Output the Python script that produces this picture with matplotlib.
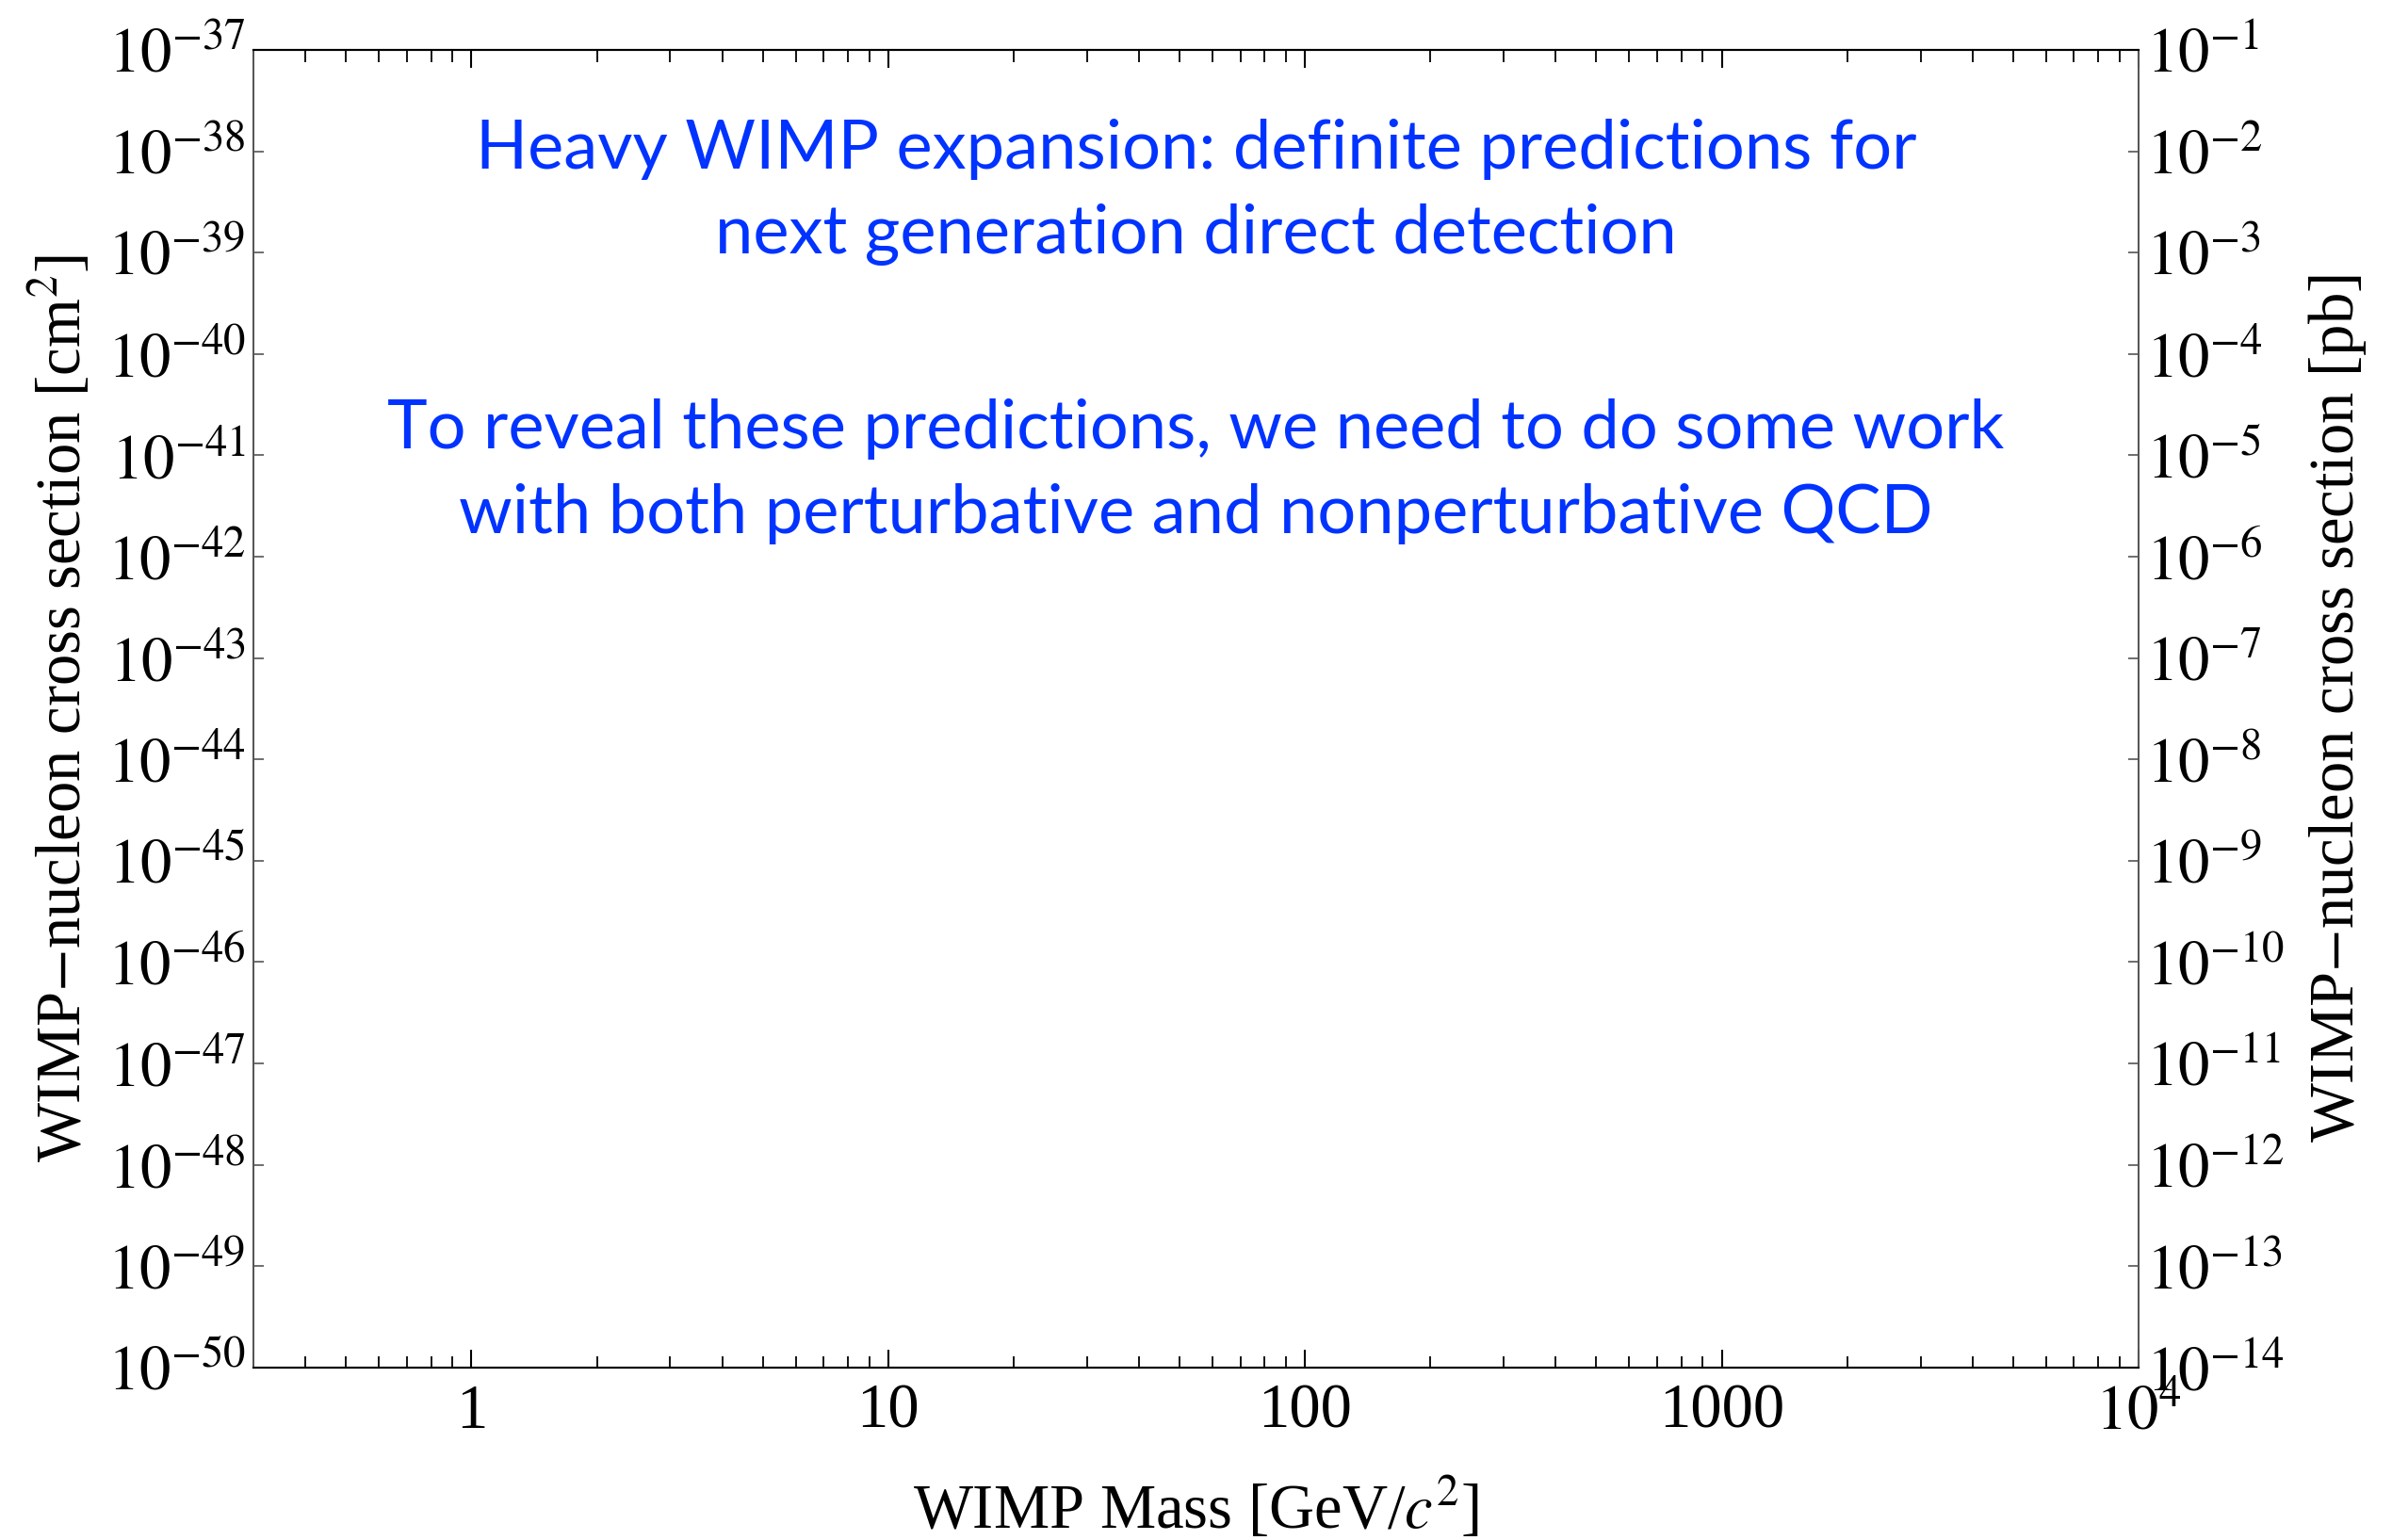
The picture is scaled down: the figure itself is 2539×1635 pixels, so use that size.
import numpy as np
import matplotlib
matplotlib.use("Agg")
import matplotlib.pyplot as plt
from matplotlib.ticker import FixedLocator, NullFormatter

plt.rcParams['font.family'] = ['Liberation Serif', 'DejaVu Serif']
plt.rcParams['mathtext.fontset'] = 'stix'

# axis ranges and ticks
mass_lim = (0.3, 1e4)
mass_ticks = [1, 10, 100, 1000, 1e4]
mass_labels = ['1', '10', '100', '1000', r'$10^{4}$']
cm2_exps = list(range(-50, -36))
pb_exps = list(range(-14, 0))

notes = [
    "Heavy WIMP expansion: definite predictions for",
    "next generation direct detection",
    "",
    "To reveal these predictions, we need to do some work",
    "with both perturbative and nonperturbative QCD",
]

fig = plt.figure(figsize=(25.39, 16.35), dpi=100)
ax = fig.add_axes([0.106, 0.112, 0.788, 0.8556])

ax.set_xscale('log')
ax.set_yscale('log')
ax.set_xlim(*mass_lim)
ax.set_ylim(10.0**cm2_exps[0], 10.0**cm2_exps[-1])

ax.xaxis.set_major_locator(FixedLocator(mass_ticks))
ax.set_xticklabels(mass_labels)
minors = [m * 10.0**e for e in range(-1, 4) for m in range(2, 10)]
minors = [v for v in minors if mass_lim[0] <= v <= mass_lim[1]]
ax.xaxis.set_minor_locator(FixedLocator(minors))
ax.xaxis.set_minor_formatter(NullFormatter())

ax.yaxis.set_major_locator(FixedLocator([10.0**e for e in cm2_exps]))
ax.set_yticklabels([r'$10^{%d}$' % e for e in cm2_exps])
ax.yaxis.set_minor_locator(FixedLocator([]))

ax.tick_params(axis='x', which='major', direction='in', length=14, width=1.5,
               top=True, labelsize=48, pad=12)
ax.tick_params(axis='x', which='minor', direction='in', length=9, width=1.3, top=True)
ax.tick_params(axis='y', which='major', direction='in', length=8, width=1.2,
               labelsize=48, pad=6, colors='#555555', labelcolor='black')

ax2 = ax.twinx()
ax2.set_yscale('log')
ax2.set_ylim(10.0**pb_exps[0], 10.0**pb_exps[-1])
ax2.yaxis.set_major_locator(FixedLocator([10.0**e for e in pb_exps]))
ax2.set_yticklabels([r'$10^{%d}$' % e for e in pb_exps])
ax2.yaxis.set_minor_locator(FixedLocator([]))
ax2.tick_params(axis='y', which='major', direction='in', length=8, width=1.2,
                labelsize=48, pad=6, colors='#555555', labelcolor='black')

for a in (ax, ax2):
    a.spines['top'].set_linewidth(1.5)
    a.spines['bottom'].set_linewidth(1.5)
    a.spines['left'].set_linewidth(1.3)
    a.spines['right'].set_linewidth(1.3)
    a.spines['left'].set_color('#555555')
    a.spines['right'].set_color('#555555')

ax.set_xlabel(r'WIMP Mass [GeV/$c^{2}$]', fontsize=48, labelpad=26)
ax.set_ylabel(r'WIMP$-$nucleon cross section [cm$^{2}$]', fontsize=48, labelpad=10)
ax2.set_ylabel(r'WIMP$-$nucleon cross section [pb]', fontsize=48, labelpad=16)

ax.text(0.5, 0.892, "\n".join(notes[:2]), transform=ax.transAxes,
        ha='center', va='center', fontsize=52, color='#0033ff',
        family=['Lato', 'DejaVu Sans'], linespacing=1.48)
ax.text(0.5, 0.680, "\n".join(notes[3:]), transform=ax.transAxes,
        ha='center', va='center', fontsize=52, color='#0033ff',
        family=['Lato', 'DejaVu Sans'], linespacing=1.48)

fig.savefig('out.png', dpi=100)
